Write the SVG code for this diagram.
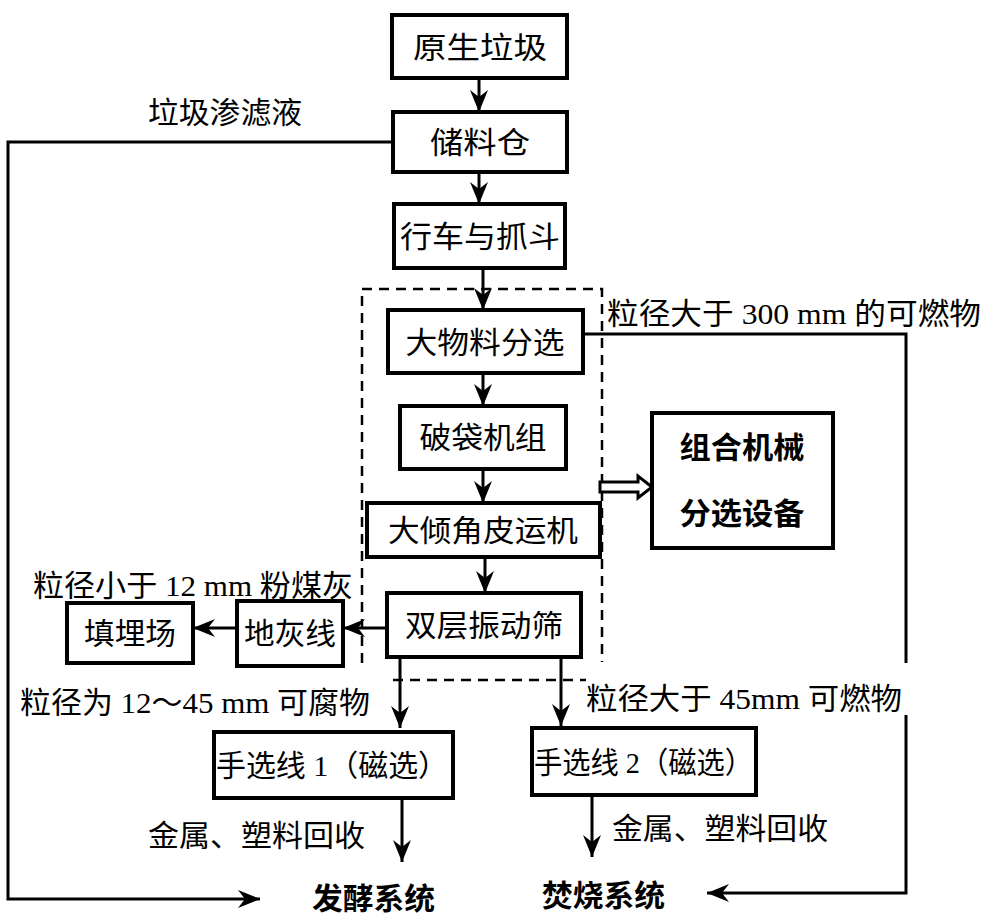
<svg xmlns="http://www.w3.org/2000/svg" width="1001" height="924" viewBox="0 0 1001 924">
<defs>
<style>
.box{fill:#fff;stroke:#000;stroke-width:4}
.ln{fill:none;stroke:#000;stroke-width:3}
.arr{fill:none;stroke:#000;stroke-width:3;marker-end:url(#ah)}
.dash{fill:none;stroke:#000;stroke-width:2.5;stroke-dasharray:10 7}
text{font-family:"Liberation Serif","Noto Sans CJK SC",serif;font-size:30px;fill:#000;dominant-baseline:central}
.c{text-anchor:middle}
.b{font-weight:bold}
</style>
<marker id="ah" markerWidth="26" markerHeight="22" viewBox="-24 -11 26 22" refX="0" refY="0" orient="auto" markerUnits="userSpaceOnUse">
<path d="M0,0 L-22,-9 L-15,0 L-22,9 z" fill="#000"/>
</marker>
</defs>
<rect width="1001" height="924" fill="#fff"/>

<g id="dashed-frame">
<path class="dash" d="M362,663 V289 H602 V662"/>
<path class="dash" d="M393,680 H586"/>
</g>

<g id="connectors">
<path class="arr" d="M393,142 H8 V899 H260"/>
<path class="arr" d="M479,78 V112"/>
<path class="arr" d="M479,172 V204"/>
<path class="arr" d="M483,268 V310"/>
<path class="arr" d="M483,373 V406"/>
<path class="arr" d="M483,469 V503"/>
<path class="arr" d="M485,557 V593"/>
<path class="ln" d="M583,334 H906 V663"/>
<path class="arr" d="M906,715 V893 H707"/>
<path class="arr" d="M387,628 H343"/>
<path class="arr" d="M237,628 H193"/>
<path class="arr" d="M400,657 V728"/>
<path class="arr" d="M561,657 V726"/>
<path class="arr" d="M402,798 V862"/>
<path class="arr" d="M592,795 V857"/>
<path d="M600,482 H638 V476 L652,487 L638,498 V492 H600 Z" fill="#fff" stroke="#000" stroke-width="3" stroke-linejoin="miter"/>
</g>

<g id="n-yuansheng">
<rect class="box" x="392" y="15" width="175" height="63"/>
<text class="c" x="480" y="47" textLength="134" lengthAdjust="spacingAndGlyphs">原生垃圾</text>
</g>
<g id="n-chuliao">
<rect class="box" x="393" y="112" width="174" height="60"/>
<text class="c" x="480" y="142" textLength="100" lengthAdjust="spacingAndGlyphs">储料仓</text>
</g>
<g id="n-xingche">
<rect class="box" x="394" y="204" width="171" height="64"/>
<text class="c" x="480" y="236" textLength="160" lengthAdjust="spacingAndGlyphs">行车与抓斗</text>
</g>
<g id="n-dawuliao">
<rect class="box" x="388" y="310" width="195" height="63"/>
<text class="c" x="485" y="342" textLength="159" lengthAdjust="spacingAndGlyphs">大物料分选</text>
</g>
<g id="n-podai">
<rect class="box" x="400" y="406" width="166" height="63"/>
<text class="c" x="483" y="437" textLength="127" lengthAdjust="spacingAndGlyphs">破袋机组</text>
</g>
<g id="n-daqingjiao">
<rect class="box" x="367" y="503" width="233" height="54"/>
<text class="c" x="483" y="530" textLength="190" lengthAdjust="spacingAndGlyphs">大倾角皮运机</text>
</g>
<g id="n-zuhe">
<rect class="box" x="652" y="413" width="181" height="135"/>
<text class="c b" x="742" y="447" textLength="125" lengthAdjust="spacingAndGlyphs">组合机械</text>
<text class="c b" x="742" y="513" textLength="125" lengthAdjust="spacingAndGlyphs">分选设备</text>
</g>
<g id="n-shuangceng">
<rect class="box" x="387" y="593" width="194" height="64"/>
<text class="c" x="484" y="625" textLength="158" lengthAdjust="spacingAndGlyphs">双层振动筛</text>
</g>
<g id="n-dihui">
<rect class="box" x="237" y="601" width="106" height="65"/>
<text class="c" x="290" y="633" textLength="92" lengthAdjust="spacingAndGlyphs">地灰线</text>
</g>
<g id="n-tianmai">
<rect class="box" x="67" y="603" width="126" height="60"/>
<text class="c" x="130" y="633" textLength="92" lengthAdjust="spacingAndGlyphs">填埋场</text>
</g>
<g id="n-shouxuan1">
<rect class="box" x="214" y="732" width="239" height="66"/>
<text x="216" y="765" textLength="232" lengthAdjust="spacingAndGlyphs">手选线 1（磁选）</text>
</g>
<g id="n-shouxuan2">
<rect class="box" x="532" y="728" width="224" height="67"/>
<text x="534" y="762" textLength="219" lengthAdjust="spacingAndGlyphs">手选线 2（磁选）</text>
</g>
<g id="n-fajiao">
<text class="b" x="312" y="898" textLength="123" lengthAdjust="spacingAndGlyphs">发酵系统</text>
</g>
<g id="n-fenshao">
<text class="b" x="542" y="895" textLength="123" lengthAdjust="spacingAndGlyphs">焚烧系统</text>
</g>

<g id="labels">
<text x="148" y="112" textLength="154" lengthAdjust="spacingAndGlyphs">垃圾渗滤液</text>
<text x="607" y="313" textLength="374" lengthAdjust="spacingAndGlyphs">粒径大于 300 mm 的可燃物</text>
<text x="33" y="585" textLength="320" lengthAdjust="spacingAndGlyphs">粒径小于 12 mm 粉煤灰</text>
<text x="20" y="702" textLength="350" lengthAdjust="spacingAndGlyphs">粒径为 12～45 mm 可腐物</text>
<text x="586" y="698" textLength="316" lengthAdjust="spacingAndGlyphs">粒径大于 45mm 可燃物</text>
<text x="148" y="835" textLength="217" lengthAdjust="spacingAndGlyphs">金属、塑料回收</text>
<text x="612" y="828" textLength="216" lengthAdjust="spacingAndGlyphs">金属、塑料回收</text>
</g>
</svg>
